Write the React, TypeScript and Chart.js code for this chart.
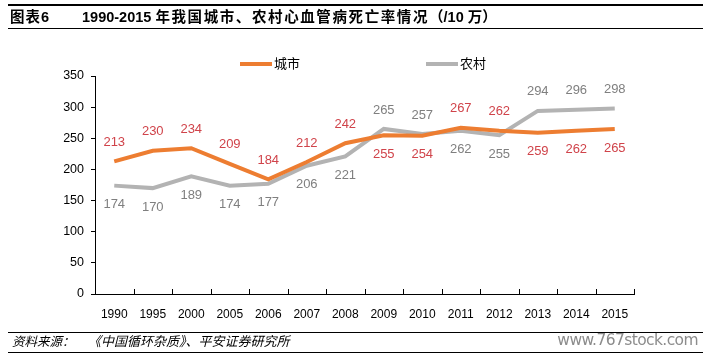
import React, { useEffect, useRef } from "react";
import { Chart, registerables } from "chart.js";

Chart.register(...registerables);

const years = ["1990", "1995", "2000", "2005", "2006", "2007", "2008", "2009", "2010", "2011", "2012", "2013", "2014", "2015"];
const cityValues = [213, 230, 234, 209, 184, 212, 242, 255, 254, 267, 262, 259, 262, 265];
const ruralValues = [174, 170, 189, 174, 177, 206, 221, 265, 257, 262, 255, 294, 296, 298];
const seriesNames = ["城市", "农村"];
const yMin = 0;
const yMax = 350;
const yStep = 50;

const FONT = '"Liberation Sans", Arial, "Noto Sans CJK SC", sans-serif';
const ORANGE = "#ED7D31";
const GREY = "#B3B3B3";
const CITY_LABEL = "#D0434A";
const RURAL_LABEL = "#7F7F7F";

const labelPlugin = {
  id: "valueLabels",
  afterDatasetsDraw(chart: any) {
    const ctx = chart.ctx;
    const colors = [CITY_LABEL, RURAL_LABEL];
    ctx.save();
    ctx.font = `13px ${FONT}`;
    ctx.textAlign = "center";
    ctx.textBaseline = "middle";
    const sets = chart.data.datasets;
    sets.forEach((ds: any, d: number) => {
      const other = sets[1 - d].data;
      const meta = chart.getDatasetMeta(d);
      meta.data.forEach((pt: any, i: number) => {
        const v = ds.data[i];
        const above = v >= other[i];
        ctx.fillStyle = colors[d];
        ctx.fillText(String(v), pt.x, pt.y + (above ? -19 : 19));
      });
    });
    ctx.restore();
  },
};

const innerTicksPlugin = {
  id: "innerTicks",
  afterDraw(chart: any) {
    const { ctx, chartArea } = chart;
    const n = chart.data.labels.length;
    const w = (chartArea.right - chartArea.left) / n;
    ctx.save();
    ctx.strokeStyle = "#000";
    ctx.lineWidth = 1;
    ctx.beginPath();
    for (let k = 1; k <= n; k++) {
      const x = Math.round(chartArea.left + k * w) + 0.5;
      ctx.moveTo(x, chartArea.bottom);
      ctx.lineTo(x, chartArea.bottom - 5);
    }
    ctx.stroke();
    ctx.restore();
  },
};

export default function App() {
  const ref = useRef<HTMLCanvasElement | null>(null);

  useEffect(() => {
    if (!ref.current) return;
    const chart = new Chart(ref.current, {
      type: "line",
      data: {
        labels: years,
        datasets: [
          {
            label: seriesNames[0],
            data: cityValues,
            borderColor: ORANGE,
            backgroundColor: ORANGE,
            borderWidth: 4,
            pointRadius: 0,
            tension: 0,
            fill: false,
          },
          {
            label: seriesNames[1],
            data: ruralValues,
            borderColor: GREY,
            backgroundColor: GREY,
            borderWidth: 4,
            pointRadius: 0,
            tension: 0,
            fill: false,
          },
        ],
      },
      options: {
        animation: false,
        responsive: true,
        maintainAspectRatio: false,
        devicePixelRatio: 1,
        layout: { padding: { top: 76, left: 0, right: 78, bottom: 31 } },
        plugins: {
          legend: { display: false },
          tooltip: { enabled: false },
          title: { display: false },
        },
        scales: {
          x: {
            type: "category",
            offset: true,
            grid: { display: false },
            border: { display: true, color: "#000", width: 1 },
            ticks: {
              color: "#000",
              font: { size: 12, family: FONT },
              padding: 5,
              maxRotation: 0,
              autoSkip: false,
            },
            afterFit: (s: any) => {
              s.height = 30;
            },
          },
          y: {
            min: yMin,
            max: yMax,
            grid: {
              drawOnChartArea: false,
              drawTicks: true,
              tickLength: 4,
              color: "#000",
            },
            border: { display: true, color: "#000", width: 1 },
            ticks: {
              stepSize: yStep,
              color: "#000",
              font: { size: 12.5, family: FONT },
              padding: 7,
            },
            afterFit: (s: any) => {
              s.width = 95;
            },
          },
        },
      },
      plugins: [labelPlugin, innerTicksPlugin],
    } as any);
    return () => chart.destroy();
  }, []);

  const abs = (o: any) => ({ position: "absolute" as const, ...o });

  return (
    <div
      style={{
        position: "fixed",
        left: 0,
        top: 0,
        width: 712,
        height: 355,
        background: "#fff",
        overflow: "hidden",
        fontFamily: FONT,
      }}
    >
      <div style={abs({ left: 0, top: 0, width: 712, height: 355 })}>
        <canvas ref={ref} />
      </div>
      {/* title rules */}
      <div style={abs({ left: 8, top: 4, width: 695, height: 2, background: "#000" })} />
      <div style={abs({ left: 8, top: 28, width: 695, height: 1, background: "#000" })} />
      <div
        style={abs({
          left: 10,
          top: 8,
          fontSize: 14.5,
          fontWeight: "bold",
          lineHeight: "18px",
          color: "#000",
          whiteSpace: "nowrap",
          letterSpacing: "1px",
        })}
      >
        图表6
      </div>
      <div
        style={abs({
          left: 82,
          top: 8,
          fontSize: 14.5,
          fontWeight: "bold",
          lineHeight: "18px",
          color: "#000",
          whiteSpace: "nowrap",
        })}
      >
        <span>1990-2015 </span>
        <span style={{ letterSpacing: "1.6px" }}>年我国城市、农村心血管病死亡率情况</span>
        <span>（/10 万）</span>
      </div>
      {/* legend */}
      <div style={abs({ left: 240, top: 62, width: 32, height: 4, background: ORANGE })} />
      <div style={abs({ left: 274, top: 55, fontSize: 13, lineHeight: "18px", color: "#000" })}>
        {seriesNames[0]}
      </div>
      <div style={abs({ left: 426, top: 62, width: 32, height: 4, background: GREY })} />
      <div style={abs({ left: 460, top: 55, fontSize: 13, lineHeight: "18px", color: "#000" })}>
        {seriesNames[1]}
      </div>
      {/* footer */}
      <div style={abs({ left: 8, top: 332, width: 695, height: 1, background: "#000" })} />
      <div style={abs({ left: 8, top: 352, width: 695, height: 1, background: "#000" })} />
      <div
        style={abs({
          left: 12,
          top: 334,
          fontSize: 12.5,
          fontStyle: "italic",
          lineHeight: "16px",
          color: "#000",
          whiteSpace: "nowrap",
        })}
      >
        资料来源：
      </div>
      <div
        style={abs({
          left: 88,
          top: 334,
          fontSize: 13,
          fontStyle: "italic",
          lineHeight: "16px",
          color: "#000",
          whiteSpace: "nowrap",
        })}
      >
        《中国循环杂质》、平安证券研究所
      </div>
      <div
        style={abs({
          right: 14,
          top: 330,
          fontSize: 15.5,
          letterSpacing: "-0.6px",
          lineHeight: "20px",
          color: "#8C8C8C",
          fontFamily: '"DejaVu Sans", sans-serif',
          whiteSpace: "nowrap",
        })}
      >
        www.767stock.com
      </div>
    </div>
  );
}
